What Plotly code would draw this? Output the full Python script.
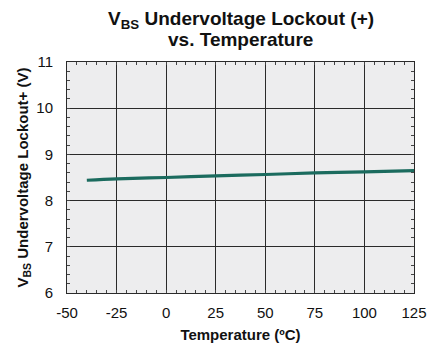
import plotly.graph_objects as go

temperature = [-40, -25, 0, 25, 50, 75, 100, 125]
uvlo_plus = [8.44, 8.47, 8.50, 8.535, 8.565, 8.60, 8.62, 8.65]
x_ticks = [-50, -25, 0, 25, 50, 75, 100, 125]
y_ticks = [6, 7, 8, 9, 10, 11]
title_lines = ["V<sub>BS</sub> Undervoltage Lockout (+)", "vs. Temperature"]

fig = go.Figure()
fig.add_trace(go.Scatter(x=temperature, y=uvlo_plus, mode="lines",
                         line=dict(color="#1b6b5e", width=3.2), line_shape="spline"))

font_family = "Liberation Sans, Arial, sans-serif"
axis_common = dict(showgrid=True, gridcolor="#2a2a2a", gridwidth=1,
                   showline=True, linecolor="#2a2a2a", linewidth=1, mirror="ticks",
                   ticks="inside", ticklen=0, tickcolor="#2a2a2a",
                   tickfont=dict(family=font_family, size=15, color="#111"),
                   zeroline=False, automargin=False)

fig.update_layout(
    width=427, height=343,
    margin=dict(l=67, r=13, t=62, b=50),
    paper_bgcolor="white", plot_bgcolor="#ededee",
    showlegend=False,
    xaxis=dict(range=[-50, 125], tickvals=x_ticks, ticktext=[str(v) for v in x_ticks],
               ticklabelstandoff=6,
               minor=dict(dtick=5, ticks="inside", ticklen=3, tickcolor="#444", showgrid=False),
               title=dict(text="Temperature (ºC)", standoff=9,
                          font=dict(family=font_family, size=15, color="#111", weight="bold")),
               **axis_common),
    yaxis=dict(range=[6, 11], tickvals=y_ticks, ticktext=[str(v) for v in y_ticks],
               ticklabelstandoff=10,
               minor=dict(dtick=0.2, ticks="inside", ticklen=3, tickcolor="#444", showgrid=False),
               title=dict(text="V<sub>BS</sub> Undervoltage Lockout+ (V)", standoff=4,
                          font=dict(family=font_family, size=15, color="#111", weight="bold")),
               **axis_common),
)

for text, ypos in zip(title_lines, [1.18, 1.099]):
    fig.add_annotation(text=text, xref="paper", yref="paper", x=0.5, y=ypos,
                       xanchor="center", yanchor="middle", showarrow=False,
                       font=dict(family=font_family, size=19, color="#111", weight="bold"))

fig.write_html("out.html", config={"displayModeBar": False},
               post_script="document.body.style.margin='0';")
